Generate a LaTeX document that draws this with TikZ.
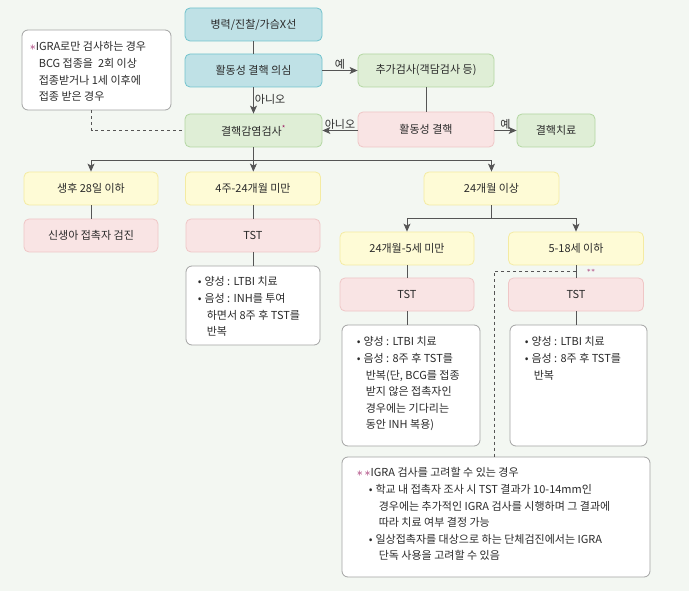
\documentclass[tikz,border=0pt]{standalone}
\usepackage{fontspec}
\setmainfont{Noto Sans CJK KR}
\usepackage{xcolor}
\usetikzlibrary{arrows.meta}

\definecolor{bgcol}{HTML}{F3F7F2}
\definecolor{txtcol}{HTML}{2A2A2A}
\definecolor{linecol}{HTML}{555555}
\definecolor{tealfill}{HTML}{BFE1E6}
\definecolor{tealline}{HTML}{72C3CD}
\definecolor{greenfill}{HTML}{DFEED6}
\definecolor{greenline}{HTML}{B3D7A2}
\definecolor{pinkfill}{HTML}{F9E4E4}
\definecolor{pinkline}{HTML}{EFC6C6}
\definecolor{yellowfill}{HTML}{FEFBD6}
\definecolor{yellowline}{HTML}{F4EBA2}
\definecolor{noteline}{HTML}{A3A3A3}
\definecolor{magcol}{HTML}{9B1C62}

\newcommand{\hang}[1]{\hspace*{#1}}
\newcommand{\bul}{\textbullet\hspace{3pt}}
\newcommand{\magast}{\textcolor{magcol}{\large$\ast$}}

\begin{document}
\begin{tikzpicture}[x=1pt,y=-1pt,
    font=\fontsize{11}{16.6}\selectfont, text=txtcol,
    box/.style={rounded corners=5pt, line width=0.8pt, minimum height=33pt, inner sep=2pt},
    tealbox/.style={box, fill=tealfill, draw=tealline, minimum width=137pt},
    greenbox/.style={box, fill=greenfill, draw=greenline, minimum width=136pt},
    pinkbox/.style={box, fill=pinkfill, draw=pinkline, minimum width=135pt},
    yellowbox/.style={box, fill=yellowfill, draw=yellowline, minimum width=135pt},
    notebox/.style={rounded corners=6pt, fill=white, draw=noteline, line width=0.8pt, inner sep=0pt},
    notetext/.style={anchor=north west, align=left, inner sep=0pt},
    arr/.style={-{Stealth[length=8pt,width=7pt,inset=2pt]}, draw=linecol, line width=0.8pt},
    ln/.style={draw=linecol, line width=0.8pt},
    lbl/.style={inner sep=1pt}]

    \fill[bgcol] (0,0) rectangle (689,591);
    \useasboundingbox (0,0) rectangle (689,591);

    % top part
    \node[tealbox] (hist) at (253.5,24.5) {병력/진찰/가슴X선};
    \node[tealbox] (susp) at (253.5,70.5) {활동성 결핵 의심};
    \node[greenbox, minimum width=137pt] (igra) at (253.5,130.5) {결핵감염검사\textsuperscript{\textcolor{magcol}{*}}};
    \node[greenbox] (extra) at (426,70.5) {추가검사(객담검사 등)};
    \node[pinkbox, minimum width=136pt, minimum height=35pt] (active) at (426,129.5) {활동성 결핵};
    \node[greenbox, minimum width=78pt] (treat) at (556,130.5) {결핵치료};

    \node[notebox, minimum width=149pt, minimum height=80pt] (memo) at (96.5,70) {};
    \node[notetext] at ([shift={(8,12)}]memo.north west)
        {\magast IGRA로만 검사하는 경우\\
         \hang{9pt}BCG 접종을~~2회 이상\\
         \hang{9pt}접종받거나 1세 이후에\\
         \hang{9pt}접종 받은 경우};

    \draw[ln] (hist) -- (susp);
    \draw[arr] (susp) -- node[lbl, above] {예} (extra);
    \draw[arr] (susp) -- node[lbl, right, pos=0.45] {아니오} (igra);
    \draw[ln] (extra) -- (active);
    \draw[arr] (active.west |- igra) -- node[lbl, above] {아니오} (igra);
    \draw[arr] (active.east |- treat) -- node[lbl, above] {예} (treat);
    \draw[ln, dashed] ([xshift=-5pt]memo.south) |- (igra.west);

    % age groups
    \node[yellowbox, minimum width=134pt] (age1) at (91,188.5) {생후 28일 이하};
    \node[pinkbox, minimum width=134pt] (newborn) at (91,235.5) {신생아 접촉자 검진};
    \node[yellowbox] (age2) at (253,188.5) {4주-24개월 미만};
    \node[pinkbox, minimum width=134pt] (tst1) at (253,235.5) {TST};
    \node[notebox, minimum width=134pt, minimum height=79pt] (note1) at (253,305.5) {};
    \node[notetext] at ([shift={(12,11)}]note1.north west)
        {\bul 양성 : LTBI 치료\\
         \bul 음성 : INH를 투여\\
         \hang{9pt}하면서 8주 후 TST를\\
         \hang{9pt}반복};

    \node[yellowbox] (age3) at (491.5,188.5) {24개월 이상};
    \node[yellowbox, minimum width=134pt] (age4) at (407,248.5) {24개월-5세 미만};
    \node[pinkbox, minimum width=134pt] (tst2) at (407,294.5) {TST};
    \node[notebox, minimum width=138pt, minimum height=121pt] (note2) at (411,385.5) {};
    \node[notetext] at ([shift={(15,12)}]note2.north west)
        {\bul 양성 : LTBI 치료\\
         \bul 음성 : 8주 후 TST를\\
         \hang{9pt}반복(단, BCG를 접종\\
         \hang{9pt}받지 않은 접촉자인\\
         \hang{9pt}경우에는 기다리는\\
         \hang{9pt}동안 INH 복용)};

    \node[yellowbox] (age5) at (576,248.5) {5-18세 이하};
    \node[pinkbox] (tst3) at (576,294.5) {TST};
    \node[notebox, minimum width=137pt, minimum height=121pt] (note3) at (578.5,385.5) {};
    \node[notetext] at ([shift={(15,12)}]note3.north west)
        {\bul 양성 : LTBI 치료\\
         \bul 음성 : 8주 후 TST를\\
         \hang{9pt}반복};

    \node[notebox, minimum width=308pt, minimum height=120pt] (igranote) at (496,517) {};
    \node[notetext] at ([shift={(15,11)}]igranote.north west)
        {\magast\,\magast IGRA 검사를 고려할 수 있는 경우\\
         \hang{12pt}\bul 학교 내 접촉자 조사 시 TST 결과가 10-14mm인\\
         \hang{22pt}경우에는 추가적인 IGRA 검사를 시행하며 그 결과에\\
         \hang{22pt}따라 치료 여부 결정 가능\\
         \hang{12pt}\bul 일상접촉자를 대상으로 하는 단체검진에서는 IGRA\\
         \hang{22pt}단독 사용을 고려할 수 있음};

    % connectors
    \coordinate (split) at (igra.south |- 0,160);
    \draw[ln] (igra) -- (split);
    \draw[arr] (split) -| (age1);
    \draw[arr] (split) -- (age2);
    \draw[arr] (split) -| (age3);
    \draw[ln] (age1) -- (newborn);
    \draw[ln] (age2) -- (tst1);
    \draw[ln] (tst1) -- (note1);
    \coordinate (split2) at (age3.south |- 0,218);
    \draw[ln] (age3) -- (split2);
    \draw[arr] (split2) -| (age4);
    \draw[arr] (split2) -| (age5);
    \draw[ln] (age4) -- (tst2);
    \draw[ln] (tst2.south) -- (tst2.south |- note2.north);
    \draw[ln] (age5) -- (tst3);
    \draw[ln] (tst3.south) -- (tst3.south |- note3.north);
    \path (age5) -- coordinate[pos=0.5] (mid5) (tst3);
    \draw[ln, dashed] (mid5) -| ([xshift=-2pt]igranote.north);
    \node[text=magcol, font=\scriptsize, inner sep=0pt] (stars) at (591,271) {$\ast\ast$};
\end{tikzpicture}
\end{document}
